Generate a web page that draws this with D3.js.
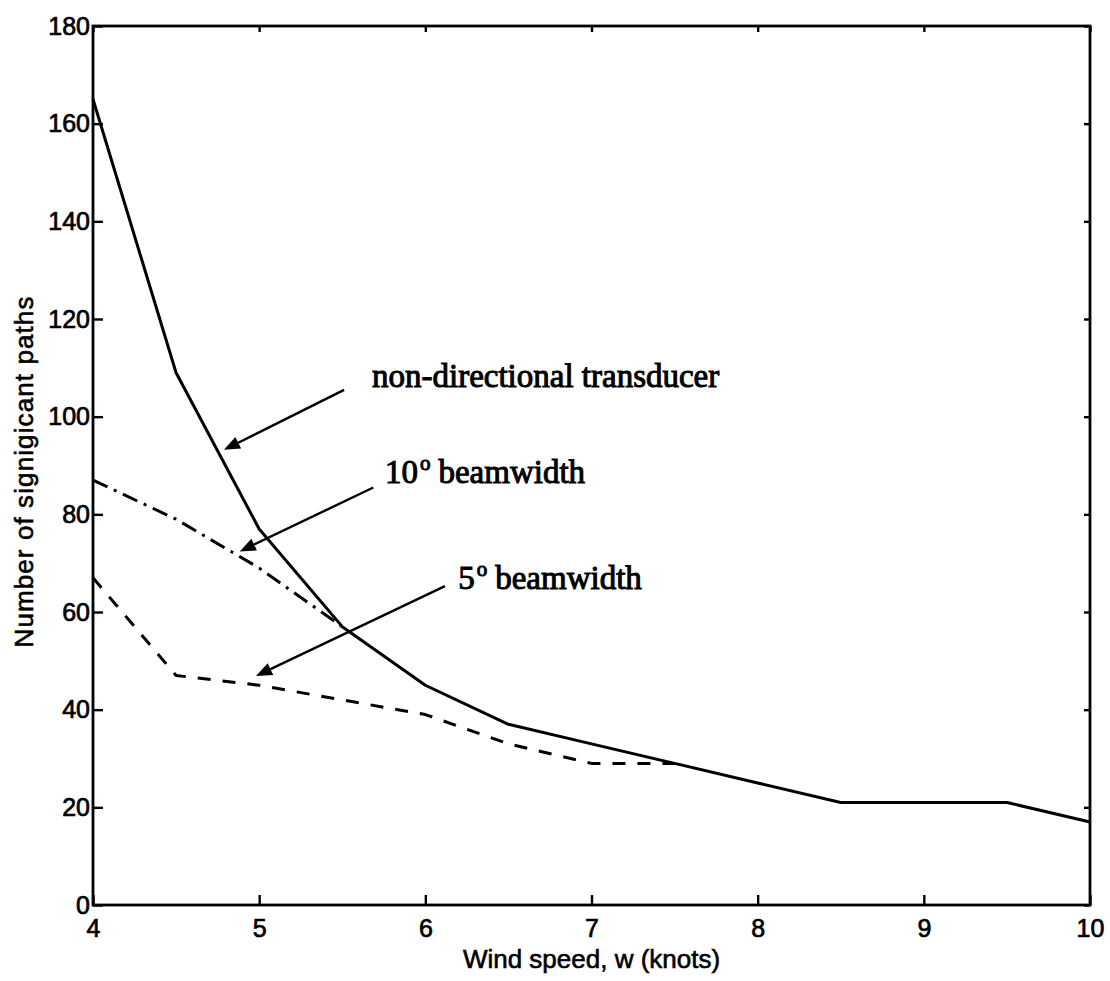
<!DOCTYPE html>
<html>
<head>
<meta charset="utf-8">
<script src="https://cdn.jsdelivr.net/npm/d3@7"></script>
<style>
  html, body { margin: 0; padding: 0; background: #fff; }
  svg { display: block; }
</style>
</head>
<body>
<svg id="chart" width="1110" height="981"></svg>
<script>
// Wind speed samples (knots)
const windSpeed = [4, 4.5, 5, 5.5, 6, 6.5, 7, 7.5, 8, 8.5, 9, 9.5, 10];
// Significant paths, non-directional transducer
const nonDirectional = [165, 109, 77, 57, 45, 37, 33, 29, 25, 21, 21, 21, 17];
// Significant paths, 10 degree beamwidth
const beam10Speed = [4, 4.5, 5, 5.5];
const beam10 = [87, 79, 69, 57];
// Significant paths, 5 degree beamwidth
const beam5Speed = [4, 4.5, 5, 5.5, 6, 6.5, 7, 7.5];
const beam5 = [67, 47, 45, 42, 39, 33, 29, 29];

const xTicks = [4, 5, 6, 7, 8, 9, 10];
const yTicks = [0, 20, 40, 60, 80, 100, 120, 140, 160, 180];

const xLabel = "Wind speed, w (knots)";
const yLabel = "Number of signigicant paths";

// Callouts: label anchor, arrow start and arrow tip in data units
const callouts = [
  { main: "non-directional transducer", sup: null, rest: null, text: [5.679, 106.1], from: [5.511, 105.5], to: [4.788, 93.2] },
  { main: "10", sup: "o", rest: "beamwidth", text: [5.757, 86.4], from: [5.687, 85.5], to: [4.883, 72.4] },
  { main: "5", sup: "o", rest: "beamwidth", text: [6.198, 64.7], from: [6.118, 65.3], to: [4.981, 46.9] }
];

const svg = d3.select("#chart");
const W = 1110, H = 981;
const margin = { top: 26, right: 20, bottom: 76, left: 93 };
const iw = W - margin.left - margin.right;
const ih = H - margin.top - margin.bottom;

svg.append("rect").attr("width", W).attr("height", H).attr("fill", "#fff");

const g = svg.append("g").attr("transform", `translate(${margin.left},${margin.top})`);

const x = d3.scaleLinear().domain([4, 10]).range([0, iw]);
const y = d3.scaleLinear().domain([0, 180]).range([ih, 0]);

const axisFont = "'Liberation Sans', Arial, Helvetica, sans-serif";

function styleAxis(sel, showText) {
  sel.select(".domain").remove();
  sel.selectAll(".tick line").attr("stroke", "#000").attr("stroke-width", 2.4);
  sel.selectAll(".tick text")
    .attr("fill", "#000")
    .attr("stroke", "#000")
    .attr("stroke-width", 0.7)
    .style("font-family", axisFont)
    .style("font-size", "25px");
  if (!showText) sel.selectAll(".tick text").remove();
}

// Bottom and left axes with inward ticks
g.append("g").attr("transform", `translate(0,${ih})`)
  .call(d3.axisBottom(x).tickValues(xTicks).tickFormat(d3.format("d")).tickSizeInner(-10).tickSizeOuter(0).tickPadding(14))
  .call(s => styleAxis(s, true));

g.append("g")
  .call(d3.axisLeft(y).tickValues(yTicks).tickFormat(d3.format("d")).tickSizeInner(-10).tickSizeOuter(0).tickPadding(3))
  .call(s => styleAxis(s, true));

// Top and right axes: ticks only
g.append("g")
  .call(d3.axisTop(x).tickValues(xTicks).tickSizeInner(-6).tickSizeOuter(0))
  .call(s => styleAxis(s, false));

g.append("g").attr("transform", `translate(${iw},0)`)
  .call(d3.axisRight(y).tickValues(yTicks).tickSizeInner(-6).tickSizeOuter(0))
  .call(s => styleAxis(s, false));

// Plot frame
g.append("rect")
  .attr("x", 0).attr("y", 0).attr("width", iw).attr("height", ih)
  .attr("fill", "none").attr("stroke", "#000").attr("stroke-width", 2.8);

// Series lines
const line = d3.line().x(d => x(d[0])).y(d => y(d[1]));

const series = [
  { xs: windSpeed, ys: nonDirectional, dash: null },
  { xs: beam10Speed, ys: beam10, dash: "16,7,3,7" },
  { xs: beam5Speed, ys: beam5, dash: "13,12" }
];

g.selectAll("path.series")
  .data(series)
  .join("path")
  .attr("class", "series")
  .attr("d", s => line(s.xs.map((v, i) => [v, s.ys[i]])))
  .attr("fill", "none")
  .attr("stroke", "#000")
  .attr("stroke-width", 3)
  .attr("stroke-linejoin", "round")
  .attr("stroke-dasharray", s => s.dash);

// Callout arrows and labels
const serif = "'Liberation Serif', 'Times New Roman', Times, serif";
callouts.forEach(c => {
  const x0 = x(c.from[0]), y0 = y(c.from[1]);
  const x1 = x(c.to[0]), y1 = y(c.to[1]);
  const dx = x1 - x0, dy = y1 - y0;
  const len = Math.hypot(dx, dy);
  const ux = dx / len, uy = dy / len;
  const headLen = 16, headHalf = 6.5;
  const bx = x1 - ux * headLen, by = y1 - uy * headLen;
  g.append("line")
    .attr("x1", x0).attr("y1", y0).attr("x2", bx).attr("y2", by)
    .attr("stroke", "#000").attr("stroke-width", 2.4);
  g.append("path")
    .attr("d", `M${x1},${y1}L${bx - uy * headHalf},${by + ux * headHalf}L${bx + uy * headHalf},${by - ux * headHalf}Z`)
    .attr("fill", "#000");

  const t = g.append("text")
    .attr("x", x(c.text[0])).attr("y", y(c.text[1]))
    .attr("fill", "#000")
    .attr("stroke", "#000").attr("stroke-width", 1)
    .style("font-family", serif)
    .style("font-size", "33px");
  t.append("tspan").text(c.main);
  if (c.sup) {
    t.append("tspan").attr("dx", 2).attr("dy", -13).style("font-size", "21px").text(c.sup);
    t.append("tspan").attr("dx", 8).attr("dy", 13).text(c.rest);
  }
});

// Axis titles
svg.append("text")
  .attr("x", margin.left + iw / 2).attr("y", 968)
  .attr("text-anchor", "middle")
  .attr("fill", "#000")
  .attr("stroke", "#000").attr("stroke-width", 0.6)
  .style("font-family", axisFont)
  .style("font-size", "26px")
  .text(xLabel);

svg.append("text")
  .attr("transform", `translate(33,${margin.top + ih / 2 + 6}) rotate(-90)`)
  .attr("text-anchor", "middle")
  .attr("fill", "#000")
  .attr("stroke", "#000").attr("stroke-width", 0.6)
  .style("font-family", axisFont)
  .style("font-size", "26px")
  .style("letter-spacing", "1.1px")
  .text(yLabel);
</script>
</body>
</html>
